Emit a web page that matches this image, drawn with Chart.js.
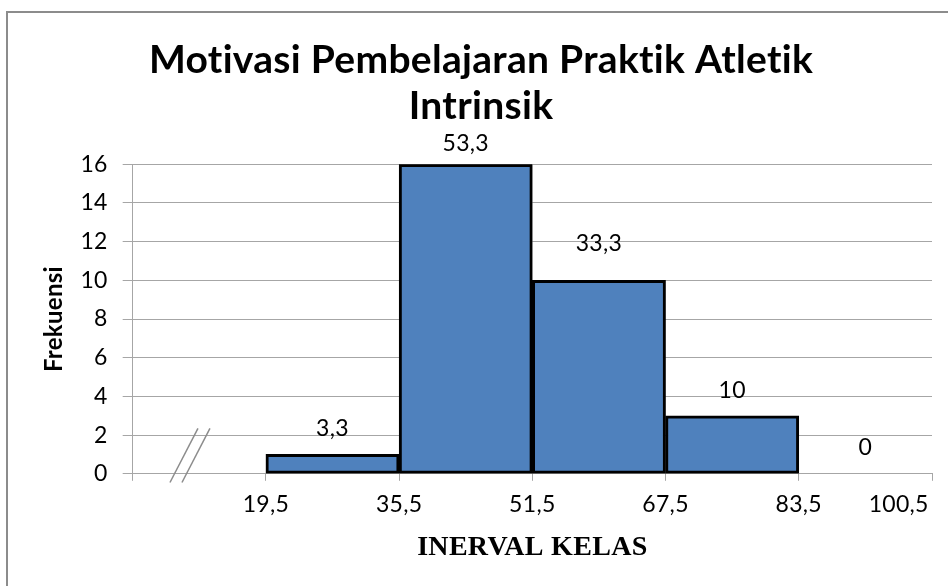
<!DOCTYPE html>
<html>
<head>
<meta charset="utf-8">
<script src="https://cdn.jsdelivr.net/npm/chart.js@4/dist/chart.umd.min.js"></script>
<style>
  html, body { margin:0; padding:0; background:#fff; }
  #wrap { position:relative; width:948px; height:586px; }
  #frame { position:absolute; left:6px; top:11px; right:-10px; bottom:-10px;
           border-left:2px solid #8c8c8c; border-top:2px solid #8c8c8c; }
  canvas { position:absolute; left:0; top:0; }
</style>
</head>
<body>
<div id="wrap">
  <div id="frame"></div>
  <canvas id="histChart" width="948" height="586"></canvas>
</div>
<script>
// data
const classes = ['', '19,5-35,5', '35,5-51,5', '51,5-67,5', '67,5-83,5', '83,5-100,5'];
const frequencies = [null, 1, 16, 10, 3, 0];
const percentLabels = [null, '3,3', '53,3', '33,3', '10', '0'];
const boundaryLabels = ['', '19,5', '35,5', '51,5', '67,5', '83,5', '100,5', ''];
const boundaryValues = [0, 1, 2, 3, 4, 5, 5.75, 6];
const yMax = 16;
const yStep = 2;

const FONT = 'Lato, "Open Sans", sans-serif';
const GRID = '#a6a6a6';

// percent labels above bars
const barLabels = {
  id:'barLabels',
  afterDatasetsDraw(chart, args, opts){
    const ctx = chart.ctx;
    const meta = chart.getDatasetMeta(0);
    ctx.save();
    ctx.font = '23px ' + FONT;
    ctx.fillStyle = '#000';
    ctx.textAlign = 'center';
    ctx.textBaseline = 'middle';
    meta.data.forEach((bar, i) => {
      if(percentLabels[i] == null) return;
      const lift = (opts.lift && opts.lift[i]) || 25;
      ctx.fillText(percentLabels[i], bar.x, bar.y - lift);
    });
    ctx.restore();
  }
};

// axis break "//" near the origin
const axisBreak = {
  id:'axisBreak',
  beforeDraw(chart){ chart.ctx.letterSpacing = '0.3px'; }, // keeps "ti" from joining
  afterDraw(chart){
    const xs = chart.scales.xb, ys = chart.scales.y;
    const ctx = chart.ctx;
    ctx.save();
    ctx.strokeStyle = '#8c8c8c';
    ctx.lineWidth = 1.5;
    [0.28, 0.37].forEach(v => {
      ctx.beginPath();
      ctx.moveTo(xs.getPixelForValue(v), ys.getPixelForValue(-0.45));
      ctx.lineTo(xs.getPixelForValue(v + 0.21), ys.getPixelForValue(2.35));
      ctx.stroke();
    });
    ctx.restore();
  }
};

new Chart(document.getElementById('histChart'), {
  type:'bar',
  data:{
    labels: classes,
    datasets:[{
      data: frequencies,
      backgroundColor:'#4f81bd',
      borderColor:'#000',
      borderWidth:3,
      borderSkipped:false,
      barPercentage:1,
      categoryPercentage:1,
      xAxisID:'x'
    }]
  },
  options:{
    responsive:false,
    animation:false,
    layout:{padding:{left:30, right:16, top:38, bottom:10}},
    plugins:{
      legend:{display:false},
      tooltip:{enabled:false},
      title:{
        display:true,
        text:['Motivasi Pembelajaran Praktik Atletik', 'Intrinsik'],
        color:'#000',
        font:{family:FONT, size:39, weight:'bold', lineHeight:1.17},
        padding:{top:0, bottom:35}
      },
      barLabels:{lift:[0, 26, 21, 37, 25, 26]}
    },
    scales:{
      x:{display:false, offset:true},
      xb:{
        type:'linear',
        position:'bottom',
        offset:false,
        min:0, max:6,
        afterBuildTicks(scale){ scale.ticks = boundaryValues.map(v => ({value:v})); },
        ticks:{
          autoSkip:false,
          maxRotation:0,
          padding:10,
          color:'#000',
          font:{family:FONT, size:23},
          callback:(v, i) => boundaryLabels[i]
        },
        grid:{
          offset:false,
          drawOnChartArea:false,
          tickLength:7,
          tickColor:ctx => boundaryLabels[ctx.index] === '100,5' ? 'rgba(0,0,0,0)' : GRID
        },
        border:{color:GRID},
        title:{
          display:true,
          text:'INERVAL KELAS',
          color:'#000',
          font:{family:'"Liberation Serif", serif', size:28, weight:'bold'},
          padding:{top:3, bottom:11}
        }
      },
      y:{
        min:0, max:yMax,
        ticks:{stepSize:yStep, padding:15, color:'#000', font:{family:FONT, size:23}},
        grid:{color:GRID, tickLength:10},
        border:{color:GRID},
        title:{
          display:true,
          text:'Frekuensi',
          color:'#000',
          font:{family:FONT, size:24, weight:'bold', lineHeight:1},
          padding:{top:12, bottom:0}
        }
      }
    }
  },
  plugins:[barLabels, axisBreak]
});
</script>
</body>
</html>
